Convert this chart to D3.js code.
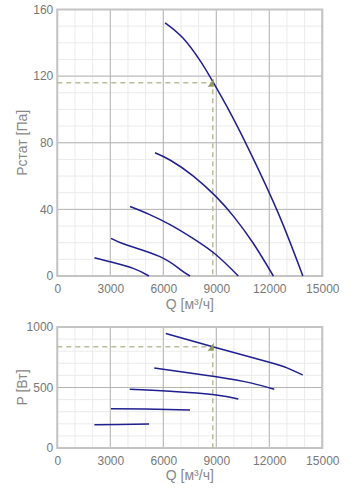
<!DOCTYPE html>
<html><head><meta charset="utf-8">
<script src="https://cdn.jsdelivr.net/npm/d3@7"></script>
<style>
html,body{margin:0;padding:0;background:#fff;}
text{font-family:"Liberation Sans",Arial,sans-serif;}
</style></head>
<body><svg id="c" width="356" height="500"></svg>
<script>
// ---- data ----
const qTicks = [0, 3000, 6000, 9000, 12000, 15000];
const pTicks = [0, 40, 80, 120, 160];
const wTicks = [0, 500, 1000];
const qTitle = "Q [м³/ч]";
const pTitle = "Рстат [Па]";
const wTitle = "P [Вт]";

// static pressure curves [Q, Pa]
const pressure1 = [[6100,152],[7100,143],[8100,129],[8830,116.2],[9800,97.8],[10900,74.7],[12500,37.9],[13900,0]];
const pressure2 = [[5530,74],[6400,69.5],[7700,60],[9000,47.5],[10000,35.5],[11100,19.5],[12230,0]];
const pressure3 = [[4120,41.7],[5200,37],[6380,30.8],[7700,22.4],[9000,12.6],[10245,0]];
const pressure4 = [[3040,22.6],[3930,18.6],[5810,11.6],[6945,4],[7510,0]];
const pressure5 = [[2100,11],[2980,8.6],[4300,4.6],[5190,0]];
const pressureCurves = [pressure1, pressure2, pressure3, pressure4, pressure5];

// power curves [Q, W]
const power1 = [[6140,947],[9000,829],[12000,708],[13000,662],[13890,603]];
const power2 = [[5490,661],[9000,589],[11000,536],[12280,485]];
const power3 = [[4100,485],[6380,468],[9000,438],[10245,405]];
const power4 = [[3040,325],[5000,322],[7510,314]];
const power5 = [[2100,193],[3500,195],[5190,198]];
const powerCurves = [power1, power2, power3, power4, power5];

// operating point
const opQ = 8800, opP = 116, opW = 837;

// ---- drawing ----
const svg = d3.select("#c");
const X0 = 57.3, X1 = 322.3;
const x = d3.scaleLinear().domain([0,15000]).range([X0,X1]);
const curveColor = "#1f1f8f";

function panel(y0, y1, yMax, minorStep, ticks, title, curves, opY, xTitleY) {
  const y = d3.scaleLinear().domain([0,yMax]).range([y1,y0]);
  const g = svg.append("g");
  // minor grid
  g.append("g").selectAll("line").data(d3.range(0,15001,1000)).join("line")
    .attr("x1",d=>x(d)).attr("x2",d=>x(d)).attr("y1",y0).attr("y2",y1)
    .attr("stroke","#ebebeb").attr("stroke-width",1);
  g.append("g").selectAll("line").data(d3.range(0,yMax+0.001,minorStep)).join("line")
    .attr("x1",X0).attr("x2",X1).attr("y1",d=>y(d)).attr("y2",d=>y(d))
    .attr("stroke","#ebebeb").attr("stroke-width",1);
  // major grid
  g.append("g").selectAll("line").data(qTicks).join("line")
    .attr("x1",d=>x(d)).attr("x2",d=>x(d)).attr("y1",y0).attr("y2",y1)
    .attr("stroke","#b4b4b4").attr("stroke-width",1);
  g.append("g").selectAll("line").data(ticks).join("line")
    .attr("x1",X0).attr("x2",X1).attr("y1",d=>y(d)).attr("y2",d=>y(d))
    .attr("stroke","#b4b4b4").attr("stroke-width",1);
  // border
  g.append("rect").attr("x",X0).attr("y",y0).attr("width",X1-X0).attr("height",y1-y0)
    .attr("fill","none").attr("stroke","#c4c4c4").attr("stroke-width",2);
  // axes labels via d3 axes
  const ax = d3.axisBottom(x).tickValues(qTicks).tickSize(0).tickPadding(8).tickFormat(d3.format("d"));
  const axg = g.append("g").attr("transform",`translate(0,${y1})`).call(ax);
  axg.select(".domain").remove();
  axg.selectAll("text").attr("fill","#777").attr("font-size","12px").attr("font-family","Liberation Sans,Arial,sans-serif");
  const ay = d3.axisLeft(y).tickValues(ticks).tickSize(0).tickPadding(4).tickFormat(d3.format("d"));
  const ayg = g.append("g").attr("transform",`translate(${X0},0)`).call(ay);
  ayg.select(".domain").remove();
  ayg.selectAll("text").attr("fill","#777").attr("font-size","12px").attr("font-family","Liberation Sans,Arial,sans-serif");
  // titles
  g.append("text").attr("transform",`translate(27,${(y0+y1)/2}) rotate(-90)`)
    .attr("text-anchor","middle").attr("fill","#888").attr("font-size","14px").text(title);
  g.append("text").attr("x",(X0+X1)/2).attr("y",xTitleY)
    .attr("text-anchor","middle").attr("fill","#888").attr("font-size","14px").text(qTitle);
  // operating point dashes
  g.append("path").attr("d",`M${X0},${y(opY)}H${x(opQ)}V${y1}`)
    .attr("fill","none").attr("stroke","#bcbc9a").attr("stroke-width",1.5).attr("stroke-dasharray","5,4");
  // curves
  const line = d3.line().x(d=>x(d[0])).y(d=>y(d[1])).curve(d3.curveNatural);
  g.append("g").selectAll("path").data(curves).join("path")
    .attr("d",line).attr("fill","none").attr("stroke",curveColor).attr("stroke-width",1.5);
  // marker
  const px = x(opQ), py = y(opY);
  g.append("path").attr("d",`M${px-5},${py+4}L${px+1},${py-4}L${px+1},${py+4}Z`)
    .attr("fill","#8f9a5a");
}

panel(9.5, 276, 160, 10, pTicks, pTitle, pressureCurves, opP, 309);
panel(327, 448, 1000, 100, wTicks, wTitle, powerCurves, opW, 480);
</script></body></html>
